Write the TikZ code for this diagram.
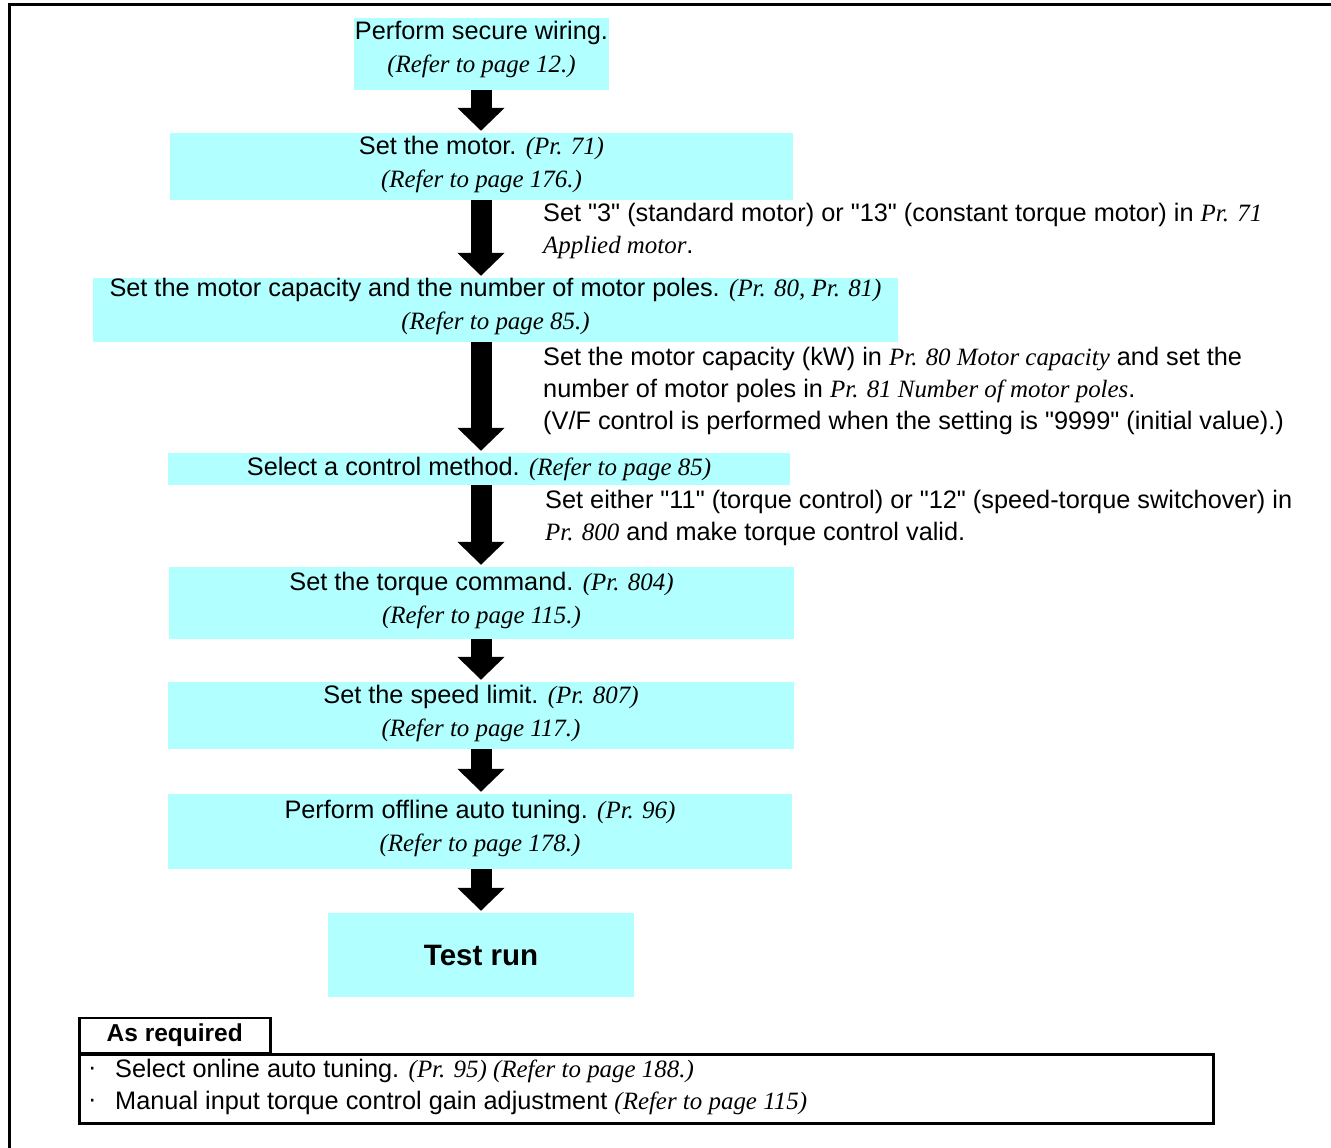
\documentclass[tikz,border=0pt]{standalone}
\usepackage{fontspec}
\setmainfont{Liberation Sans}[Ligatures=TeXOff]
\newfontfamily\serf{Liberation Serif}[Scale=0.985,Ligatures=TeXOff]
\usetikzlibrary{arrows.meta}
\definecolor{boxcyan}{RGB}{178,255,255}
\newcommand{\ti}[1]{{\serf\itshape #1}}
\begin{document}
\begin{tikzpicture}[x=1pt,y=-1pt,
  box/.style={fill=boxcyan, inner sep=0pt, align=center, font=\fontsize{25.3}{33}\selectfont},
  note/.style={anchor=west, inner sep=0pt, align=left, font=\fontsize{25.3}{32}\selectfont},
  bigarrow/.style={line width=21pt, shorten >=2pt, -{Triangle[width=46pt,length=23pt]}},
  frame/.style={draw, line width=2.5pt, inner sep=0pt}]
\useasboundingbox (0,0) rectangle (1331,1148);
\draw[line width=3pt] (9,1152) -- (9,5) -- (1336,5);
\coordinate (ax) at (481,0);

\node[box, minimum width=255pt, minimum height=72pt, text depth=13.5pt] (b1) at (481.5,54)
  {Perform secure wiring.\\ \ti{(Refer to page 12.)}};
\node[box, minimum width=623pt, minimum height=67pt, text depth=8.5pt] (b2) at (481.5,166.5)
  {Set the motor. \ti{(Pr. 71)}\\ \ti{(Refer to page 176.)}};
\node[box, minimum width=805pt, minimum height=64pt, text depth=11.5pt] (b3) at (495.5,310)
  {Set the motor capacity and the number of motor poles. \ti{(Pr. 80, Pr. 81)}\\ \ti{(Refer to page 85.)}};
\node[box, minimum width=622pt, minimum height=32pt] (b4) at (479,469)
  {Select a control method. \ti{(Refer to page 85)}};
\node[box, minimum width=625pt, minimum height=72pt, text depth=9.5pt] (b5) at (481.5,603)
  {Set the torque command. \ti{(Pr. 804)}\\ \ti{(Refer to page 115.)}};
\node[box, minimum width=626pt, minimum height=67pt, text depth=8.5pt] (b6) at (481,715.5)
  {Set the speed limit. \ti{(Pr. 807)}\\ \ti{(Refer to page 117.)}};
\node[box, minimum width=624pt, minimum height=75pt, text depth=10.5pt] (b7) at (480,831.5)
  {Perform offline auto tuning. \ti{(Pr. 96)}\\ \ti{(Refer to page 178.)}};
\node[box, minimum width=306pt, minimum height=84pt, font=\bfseries\fontsize{29.5}{34}\selectfont] (b8) at (481,955)
  {Test run};

\draw[bigarrow] (b1.south -| ax) -- (b2.north -| ax);
\draw[bigarrow] (b2.south -| ax) -- (b3.north -| ax);
\draw[bigarrow] (b3.south -| ax) -- (b4.north -| ax);
\draw[bigarrow] (b4.south -| ax) -- (b5.north -| ax);
\draw[bigarrow] (b5.south -| ax) -- (b6.north -| ax);
\draw[bigarrow] (b6.south -| ax) -- (b7.north -| ax);
\draw[bigarrow] (b7.south -| ax) -- (b8.north -| ax);

\node[note] (n2) at (543,231)
  {Set "3" (standard motor) or "13" (constant torque motor) in \ti{Pr. 71}\\ \ti{Applied motor}.};
\node[note] (n3) at (543,391)
  {Set the motor capacity (kW) in \ti{Pr. 80 Motor capacity} and set the\\
   number of motor poles in \ti{Pr. 81 Number of motor poles}.\\
   (V/F control is performed when the setting is "9999" (initial value).)};
\node[note] (n4) at (545,518)
  {Set either "11" (torque control) or "12" (speed-torque switchover) in\\
   \ti{Pr. 800} and make torque control valid.};

\node[frame, minimum width=1134pt, minimum height=69pt, anchor=north west] (req) at (78,1053) {};
\node[frame, minimum width=191pt, minimum height=35pt, anchor=south west, font=\bfseries\fontsize{24.5}{28}\selectfont] (tab) at (78,1054) {As required};
\node[note] (d1) at (88,1071) {·};
\node[note] (r1) at (115,1071) {Select online auto tuning. \ti{(Pr. 95) (Refer to page 188.)}};
\node[note] (d2) at (88,1103) {·};
\node[note] (r2) at (115,1103) {Manual input torque control gain adjustment \ti{(Refer to page 115)}};
\end{tikzpicture}
\end{document}
